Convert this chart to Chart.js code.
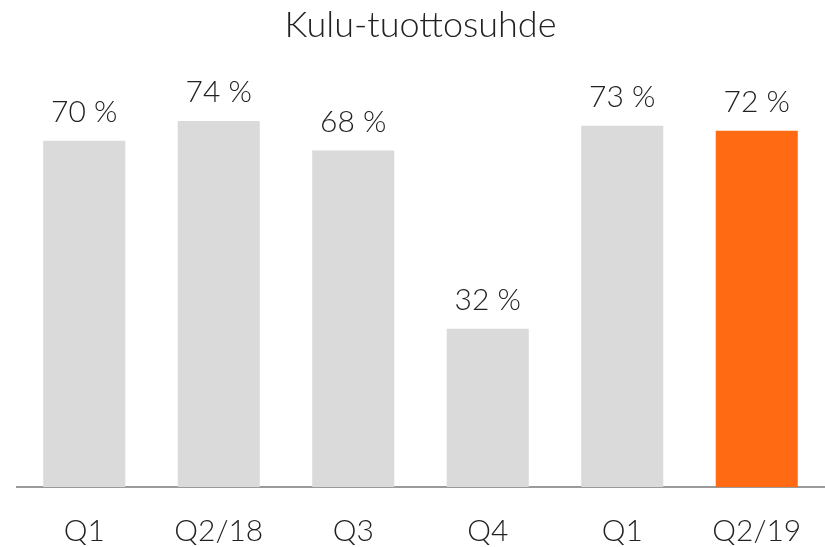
<!DOCTYPE html>
<html>
<head>
<meta charset="utf-8">
<script src="https://cdn.jsdelivr.net/npm/chart.js@4"></script>
<style>
  html, body { margin: 0; padding: 0; background: #fff; }
  #wrap { width: 825px; height: 547px; }
</style>
</head>
<body>
<div id="wrap"><canvas id="myBarChart" width="825" height="547"></canvas></div>
<script>
// chart data
var categories = ["Q1", "Q2/18", "Q3", "Q4", "Q1", "Q2/19"];
var ratios = [70, 74, 68, 32, 73, 72];
var barColors = ["#dadada", "#dadada", "#dadada", "#dadada", "#dadada", "#ff6a13"];

var fontFamily = "Lato, 'Open Sans', sans-serif";

// draws the "70 %" labels above each bar
var valueLabels = {
    id: 'valueLabels',
    afterDatasetsDraw: function(chart) {
        var ctx = chart.ctx;
        var meta = chart.getDatasetMeta(0);
        ctx.save();
        ctx.font = '300 30px ' + fontFamily;
        ctx.fillStyle = '#222';
        ctx.textAlign = 'center';
        ctx.textBaseline = 'alphabetic';
        meta.data.forEach(function(bar, i) {
            ctx.fillText(ratios[i] + ' %', bar.x, bar.y - 19);
        });
        ctx.restore();
    }
};

var ctx = document.getElementById('myBarChart').getContext('2d');
var chart = new Chart(ctx, {
    type: 'bar',
    data: {
        labels: categories,
        datasets: [{
            label: "Kulu-tuottosuhde",
            backgroundColor: barColors,
            data: ratios,
            categoryPercentage: 1,
            barPercentage: 0.61
        }]
    },
    options: {
        responsive: false,
        animation: false,
        layout: { padding: { left: 17, right: 1, top: 0, bottom: 2 } },
        plugins: {
            legend: { display: false },
            tooltip: { enabled: false },
            title: {
                display: true,
                text: "Kulu-tuottosuhde",
                color: '#222',
                font: { family: fontFamily, size: 36, weight: '300', lineHeight: 1.2 },
                padding: { top: 4, bottom: 44 }
            }
        },
        scales: {
            x: {
                grid: { display: false },
                border: { display: true, color: '#9a9a9a', width: 2 },
                ticks: {
                    color: '#222',
                    padding: 21,
                    font: { family: fontFamily, size: 30, weight: '300', lineHeight: 1 }
                },
                // keep the axis band a fixed height so the baseline sits where it should
                afterFit: function(scale) { scale.height = 58; }
            },
            y: {
                display: false,
                min: 0,
                max: 80
            }
        }
    },
    plugins: [valueLabels]
});
</script>
</body>
</html>
